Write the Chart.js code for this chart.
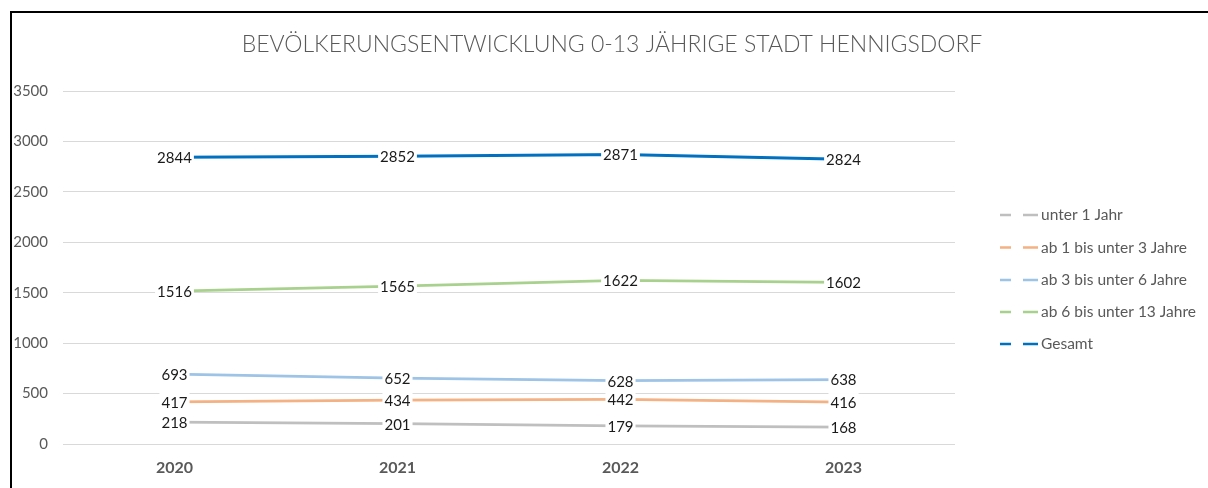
<!DOCTYPE html>
<html>
<head>
<meta charset="utf-8">
<script src="https://cdn.jsdelivr.net/npm/chart.js@4/dist/chart.umd.min.js"></script>
<style>
  html, body { margin: 0; padding: 0; background: #fff; }
  #wrap { position: relative; width: 1208px; height: 488px; overflow: hidden; }
  #frame { position: absolute; left: 10px; top: 11px; width: 1300px; height: 600px;
           border-left: 2px solid #000; border-top: 2px solid #000; pointer-events: none; }
  canvas { position: absolute; left: 0; top: 0; }
</style>
</head>
<body>
<div id="wrap">
  <canvas id="c" width="1208" height="488"></canvas>
  <div id="frame"></div>
</div>
<script>
const titleText = 'BEVÖLKERUNGSENTWICKLUNG 0-13 JÄHRIGE STADT HENNIGSDORF';
const categories = ['2020', '2021', '2022', '2023'];
const seriesNames = ['unter 1 Jahr', 'ab 1 bis unter 3 Jahre', 'ab 3 bis unter 6 Jahre', 'ab 6 bis unter 13 Jahre', 'Gesamt'];
const unter1 = [218, 201, 179, 168];
const ab1bis3 = [417, 434, 442, 416];
const ab3bis6 = [693, 652, 628, 638];
const ab6bis13 = [1516, 1565, 1622, 1602];
const gesamt = [2844, 2852, 2871, 2824];
const yTicks = [0, 500, 1000, 1500, 2000, 2500, 3000, 3500];
const colors = ['#BFBFBF', '#F4B183', '#9DC3E6', '#A9D18E', '#0070C0'];

const FONT = 'Lato, Carlito, Calibri, "Open Sans", sans-serif';

const labelPlugin = {
  id: 'pointLabels',
  afterDatasetsDraw(chart) {
    const ctx = chart.ctx;
    ctx.save();
    ctx.font = '15px ' + FONT;
    ctx.textAlign = 'center';
    ctx.textBaseline = 'middle';
    chart.data.datasets.forEach((ds, i) => {
      const meta = chart.getDatasetMeta(i);
      meta.data.forEach((pt, j) => {
        const txt = String(ds.data[j]);
        const w = ctx.measureText(txt).width;
        ctx.fillStyle = '#ffffff';
        ctx.fillRect(pt.x - w / 2 - 2, pt.y - 9, w + 4, 18);
        ctx.fillStyle = '#1a1a1a';
        ctx.fillText(txt, pt.x, pt.y + 1);
      });
    });
    ctx.restore();
  },
  afterDraw(chart) {
    const ctx = chart.ctx;
    ctx.save();
    // title
    ctx.font = '300 23px ' + FONT;
    ctx.fillStyle = '#595959';
    ctx.textAlign = 'center';
    ctx.textBaseline = 'middle';
    ctx.fillText(titleText, 612, 45);
    // legend
    const ys = [215, 247.5, 280, 312, 344];
    ctx.font = '15.5px ' + FONT;
    ctx.textBaseline = 'middle';
    ctx.textAlign = 'left';
    chart.data.datasets.forEach((ds, i) => {
      const y = ys[i];
      ctx.strokeStyle = ds.borderColor;
      ctx.lineWidth = 2.5;
      ctx.beginPath();
      ctx.moveTo(1000, y); ctx.lineTo(1011, y);
      ctx.moveTo(1023, y); ctx.lineTo(1038, y);
      ctx.stroke();
      ctx.fillStyle = '#595959';
      ctx.fillText(ds.label, 1041, y);
    });
    ctx.restore();
  }
};

const datasetsRaw = [unter1, ab1bis3, ab3bis6, ab6bis13, gesamt];

new Chart(document.getElementById('c'), {
  type: 'line',
  data: {
    labels: categories,
    datasets: datasetsRaw.map((d, i) => ({
      label: seriesNames[i],
      data: d,
      borderColor: colors[i],
      backgroundColor: colors[i],
      borderWidth: i === 4 ? 3 : 2.75,
      pointRadius: 0,
      tension: 0,
      fill: false
    }))
  },
  options: {
    responsive: false,
    animation: false,
    devicePixelRatio: 1,
    layout: { padding: { top: 91, right: 253, bottom: 0, left: 0 } },
    plugins: {
      legend: { display: false },
      tooltip: { enabled: false },
      title: { display: false }
    },
    scales: {
      x: {
        offset: true,
        grid: { display: false },
        border: { display: false },
        ticks: { color: '#595959', font: { family: FONT, size: 16, weight: 'bold' }, padding: 6 },
        afterFit(s) { s.height = 44; }
      },
      y: {
        min: 0, max: 3500,
        afterBuildTicks(s) { s.ticks = yTicks.map(v => ({ value: v })); },
        grid: { color: '#D9D9D9', lineWidth: 1, drawTicks: false },
        border: { display: false },
        ticks: { color: '#595959', font: { family: FONT, size: 15 }, padding: 15,
                 callback: v => String(v) },
        afterFit(s) { s.width = 63; }
      }
    }
  },
  plugins: [labelPlugin]
});
</script>
</body>
</html>
